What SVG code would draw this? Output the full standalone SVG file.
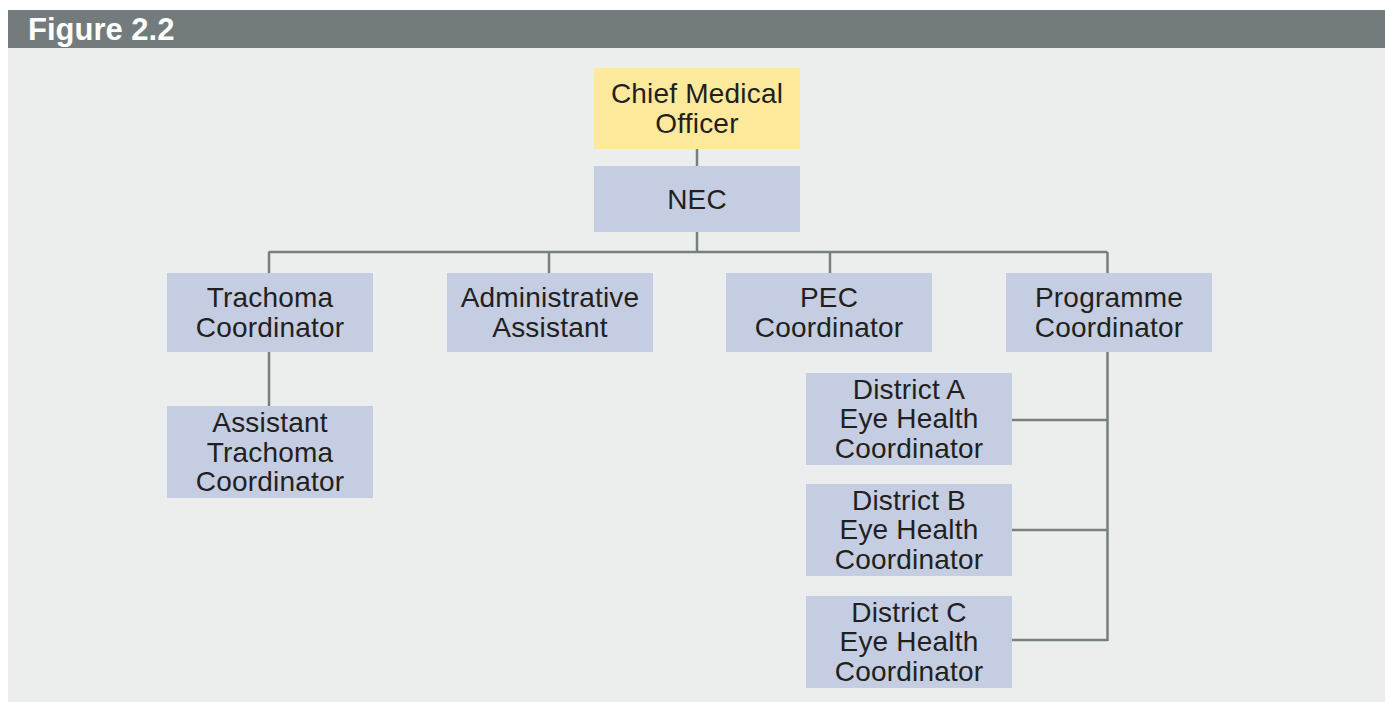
<svg xmlns="http://www.w3.org/2000/svg" width="1385" height="702" viewBox="0 0 1385 702">
<style>
.bg{fill:#eceeed}
.hdr{fill:#737b7c}
.box{fill:#c5cde2}
.top{fill:#fde99c}
.t{font-family:"Liberation Sans",Arial,Helvetica,sans-serif;font-size:28px;fill:#231f20;text-anchor:middle;letter-spacing:0.2px}
.h{font-family:"Liberation Sans",Arial,Helvetica,sans-serif;font-size:31px;font-weight:bold;fill:#ffffff}
.c{stroke:#76807f;stroke-width:2.5;fill:none}
</style>
<rect x="0" y="0" width="1385" height="702" fill="#ffffff"/>
<rect class="bg" x="8" y="10" width="1377" height="692"/>
<rect class="hdr" x="8" y="10" width="1377" height="38"/>
<text class="h" x="28" y="40">Figure 2.2</text>
<g id="connectors">
<path class="c" d="M697 149V166M697 232V252M268.5 252H1107.5M269 252V273M549 252V273M830 252V273M1107.5 252V273"/>
<path class="c" d="M269 352V406"/>
<path class="c" d="M1107.5 352V641M1012 420H1107.5M1012 530H1107.5M1012 640H1107.5"/>
</g>
<g id="chief">
<rect class="top" x="594" y="68" width="206" height="81"/>
<text class="t" x="697" y="103">Chief Medical</text>
<text class="t" x="697" y="133">Officer</text>
</g>
<g id="nec">
<rect class="box" x="594" y="166" width="206" height="66"/>
<text class="t" x="697" y="209">NEC</text>
</g>
<g id="trachoma">
<rect class="box" x="167" y="273" width="206" height="79"/>
<text class="t" x="270" y="307">Trachoma</text>
<text class="t" x="270" y="337">Coordinator</text>
</g>
<g id="admin">
<rect class="box" x="447" y="273" width="206" height="79"/>
<text class="t" x="550" y="307">Administrative</text>
<text class="t" x="550" y="337">Assistant</text>
</g>
<g id="pec">
<rect class="box" x="726" y="273" width="206" height="79"/>
<text class="t" x="829" y="307">PEC</text>
<text class="t" x="829" y="337">Coordinator</text>
</g>
<g id="programme">
<rect class="box" x="1006" y="273" width="206" height="79"/>
<text class="t" x="1109" y="307">Programme</text>
<text class="t" x="1109" y="337">Coordinator</text>
</g>
<g id="assistant-trachoma">
<rect class="box" x="167" y="406" width="206" height="92"/>
<text class="t" x="270" y="432">Assistant</text>
<text class="t" x="270" y="461.5">Trachoma</text>
<text class="t" x="270" y="491">Coordinator</text>
</g>
<g id="district-a">
<rect class="box" x="806" y="373" width="206" height="92"/>
<text class="t" x="909" y="398.5">District A</text>
<text class="t" x="909" y="428">Eye Health</text>
<text class="t" x="909" y="457.5">Coordinator</text>
</g>
<g id="district-b">
<rect class="box" x="806" y="484" width="206" height="92"/>
<text class="t" x="909" y="509.5">District B</text>
<text class="t" x="909" y="539">Eye Health</text>
<text class="t" x="909" y="568.5">Coordinator</text>
</g>
<g id="district-c">
<rect class="box" x="806" y="596" width="206" height="92"/>
<text class="t" x="909" y="621.5">District C</text>
<text class="t" x="909" y="651">Eye Health</text>
<text class="t" x="909" y="680.5">Coordinator</text>
</g>
</svg>
